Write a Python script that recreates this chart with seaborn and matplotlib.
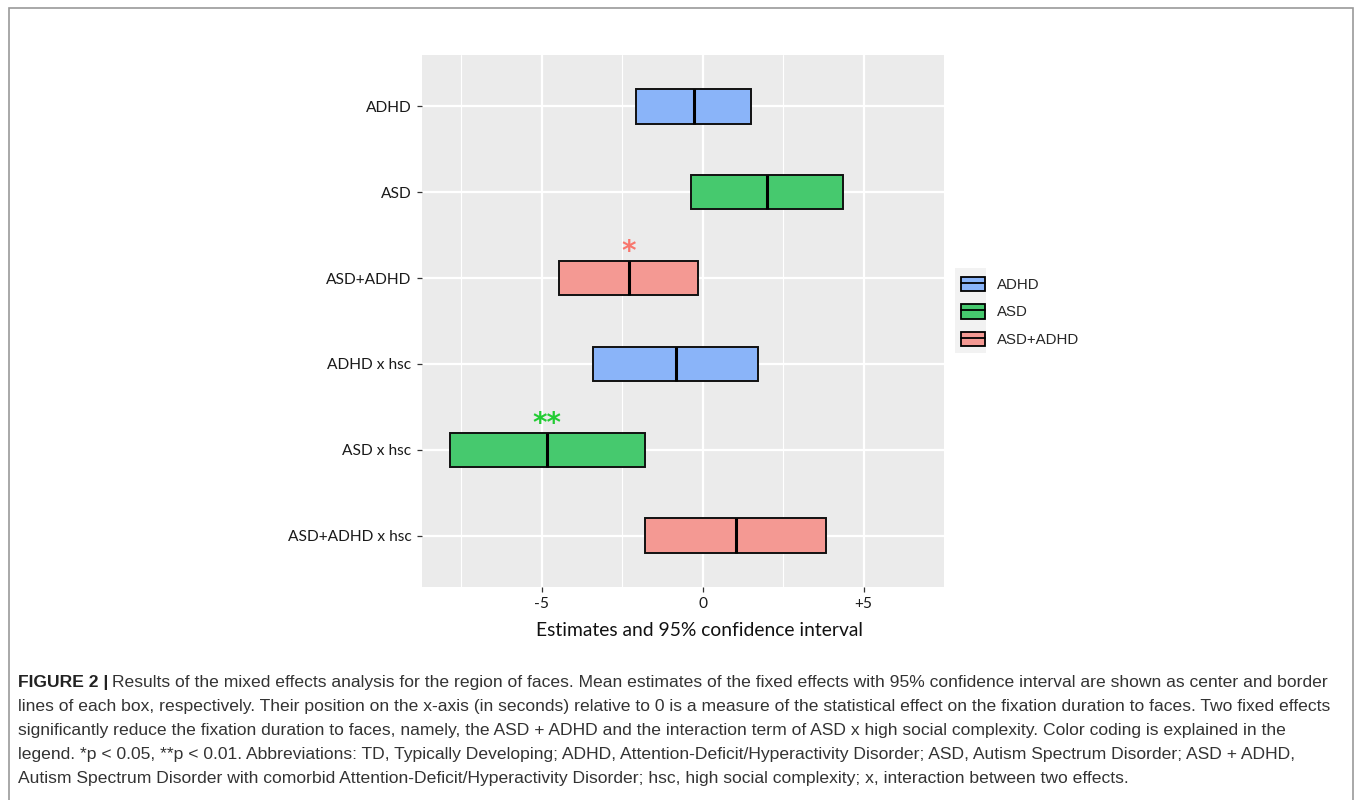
import numpy as np
import pandas as pd
import matplotlib
matplotlib.use("Agg")
import matplotlib.pyplot as plt
from matplotlib.patches import Patch, Rectangle
from matplotlib.lines import Line2D
from matplotlib.legend_handler import HandlerTuple
import seaborn as sns

# ---- data ----
terms = ["ADHD", "ASD", "ASD+ADHD", "ADHD x hsc", "ASD x hsc", "ASD+ADHD x hsc"]
groups = ["ADHD", "ASD", "ASD+ADHD", "ADHD", "ASD", "ASD+ADHD"]
lower = [-2.08, -0.37, -4.47, -3.40, -7.85, -1.78]
estimate = [-0.27, 2.01, -2.29, -0.84, -4.83, 1.05]
upper = [1.50, 4.35, -0.13, 1.73, -1.80, 3.82]
signif = ["", "", "*", "", "**", ""]
group_levels = ["ADHD", "ASD", "ASD+ADHD"]
group_colors = ["#8AB4F9", "#46C96E", "#F49993"]
star_colors = {"ADHD": "#619CFF", "ASD": "#22CC33", "ASD+ADHD": "#F8766D"}
xticks = [-5, 0, 5]
xticklabels = ["-5", "0", "+5"]

# long-form table: quartiles of [lo, lo, est, hi, hi] are exactly lo, est, hi
rows = []
for t, g, lo, est, hi in zip(terms, groups, lower, estimate, upper):
    for v in (lo, lo, est, hi, hi):
        rows.append({"term": t, "group": g, "value": v})
df = pd.DataFrame(rows)

sns.set_theme(style="white")
plt.rcParams["font.family"] = ["Lato", "DejaVu Sans"]

fig = plt.figure(figsize=(13.55, 8.0), dpi=100)
fig.patch.set_facecolor("white")
ax = fig.add_axes([422 / 1355, 1 - 587 / 800, (944 - 422) / 1355, (587 - 55) / 800])
ax.set_facecolor("#EBEBEB")

# grid
for xv in [-7.5, -2.5, 2.5]:
    ax.axvline(xv, color="white", lw=0.8, zorder=0)
for xv in xticks:
    ax.axvline(xv, color="white", lw=1.6, zorder=0)
for i in range(len(terms)):
    ax.axhline(i, color="white", lw=1.6, zorder=0)

sns.boxplot(
    data=df, x="value", y="term", hue="group",
    order=terms, hue_order=group_levels, palette=group_colors, saturation=1,
    dodge=False, width=0.4, whis=0, showcaps=False, showfliers=False,
    linecolor="#111111", linewidth=1.4,
    medianprops=dict(color="black", linewidth=2.2),
    legend=False, ax=ax, zorder=2,
)

# significance stars
for i, (s, g, est) in enumerate(zip(signif, groups, estimate)):
    if s:
        ax.text(est, i - 0.30, s, color=star_colors[g], ha="center", va="center",
                fontsize=20, fontweight="bold", family="DejaVu Sans")

ax.set_xlim(-8.72, 7.5)
ax.set_ylim(5.6, -0.6)
ax.set_xticks(xticks)
ax.set_xticklabels(xticklabels)
ax.set_ylabel("")
ax.set_xlabel("Estimates and 95% confidence interval", fontsize=13.9, color="#111111")
ax.xaxis.set_label_coords((699 - 422) / 522, -0.066)
ax.tick_params(axis="both", length=3.5, width=0.9, color="#333333", labelcolor="#1a1a1a",
               labelsize=11.2, pad=4, left=True, bottom=True)
for sp in ax.spines.values():
    sp.set_visible(False)

# legend
handles = []
for c in group_colors:
    handles.append((Patch(facecolor=c, edgecolor="black", linewidth=1.3),
                    Line2D([0], [0], color="black", lw=1.3)))
leg = fig.legend(handles, group_levels, handler_map={tuple: HandlerTuple(ndivide=1, pad=0)},
                 loc="upper left", bbox_to_anchor=(947 / 1355, 1 - 263 / 800),
                 frameon=False, handlelength=1.65, handleheight=1.1, labelspacing=0.82,
                 handletextpad=0.75, prop={"family": "Liberation Sans", "size": 10.8})
fig.patches.append(Rectangle((955 / 1355, 1 - 353 / 800), 31 / 1355, 85 / 800,
                             transform=fig.transFigure, facecolor="#F2F2F2",
                             edgecolor="none", zorder=-1))

# outer border
fig.patches.append(Rectangle((9 / 1355, -0.01), (1353 - 9) / 1355, 1 - 8 / 800 + 0.01,
                             transform=fig.transFigure, fill=False,
                             edgecolor="#9a9a9a", linewidth=1.2))

# caption
cap_font = ["Liberation Sans", "DejaVu Sans"]
cap_size = 12.6
lines = [
    "Results of the mixed effects analysis for the region of faces. Mean estimates of the fixed effects with 95% confidence interval are shown as center and border",
    "lines of each box, respectively. Their position on the x-axis (in seconds) relative to 0 is a measure of the statistical effect on the fixation duration to faces. Two fixed effects",
    "significantly reduce the fixation duration to faces, namely, the ASD + ADHD and the interaction term of ASD x high social complexity. Color coding is explained in the",
    "legend. *p < 0.05, **p < 0.01. Abbreviations: TD, Typically Developing; ADHD, Attention-Deficit/Hyperactivity Disorder; ASD, Autism Spectrum Disorder; ASD + ADHD,",
    "Autism Spectrum Disorder with comorbid Attention-Deficit/Hyperactivity Disorder; hsc, high social complexity; x, interaction between two effects.",
]
x0 = 18 / 1355
y0 = 1 - 683 / 800
dy = 24 / 800
b = fig.text(x0, y0, "FIGURE 2 |", family=cap_font, fontsize=cap_size, fontweight="bold",
             color="#222222", va="center", ha="left")
fig.canvas.draw()
bb = b.get_window_extent(renderer=fig.canvas.get_renderer())
x1 = (bb.x1 + 4) / fig.bbox.width
fig.text(x1, y0, lines[0], family=cap_font, fontsize=cap_size, color="#333333", va="center", ha="left")
for k, ln in enumerate(lines[1:], start=1):
    fig.text(x0, y0 - k * dy, ln, family=cap_font, fontsize=cap_size, color="#333333",
             va="center", ha="left")

fig.savefig("out.png", dpi=100)
